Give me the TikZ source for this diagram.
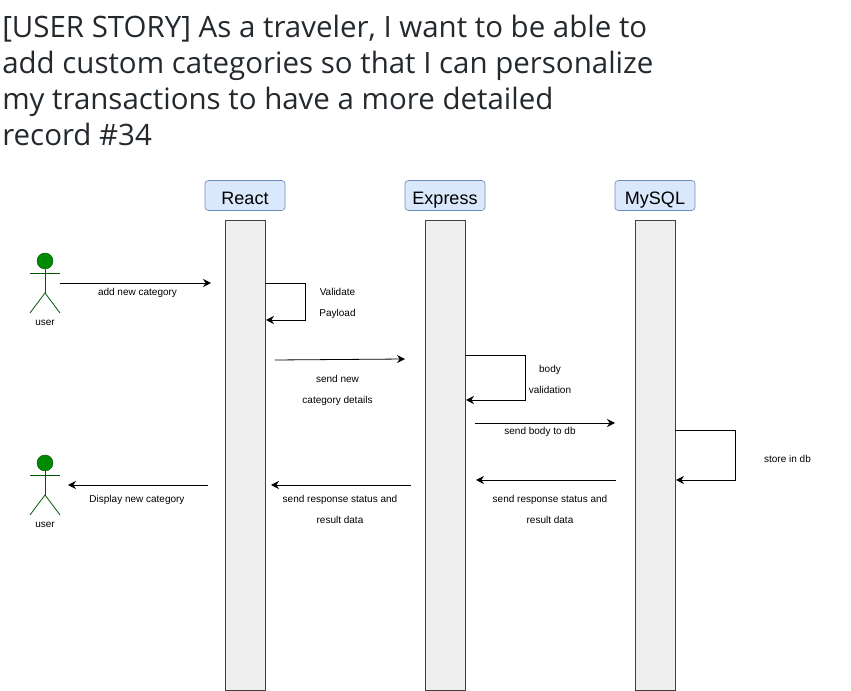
\documentclass[tikz,border=0pt]{standalone}
\usepackage{fontspec}
\usepackage{xcolor}
\setmainfont{Liberation Sans}
\newfontfamily\titlefont{Open Sans}
\usetikzlibrary{arrows.meta}
\definecolor{titlegray}{HTML}{24292E}
\definecolor{headblue}{HTML}{DAE8FC}
\definecolor{headline}{HTML}{6C8EBF}
\definecolor{bargray}{HTML}{EEEEEE}
\definecolor{actorgreen}{HTML}{008A00}
\definecolor{actorline}{HTML}{005700}
\tikzset{
  header/.style={draw=headline,fill=headblue,rounded corners=2.5pt,line width=0.5pt,minimum width=60pt,minimum height=22.5pt,inner sep=0pt,text height=14pt,text depth=1.2pt,font=\fontsize{13.5}{16}\selectfont},
  lifeline/.style={draw=black!75,fill=bargray,line width=0.6pt,minimum width=30pt,minimum height=352.5pt,inner sep=0pt},
  msg/.style={inner sep=0pt,align=center,yshift=-1.5pt,font=\fontsize{7.5}{15.75}\selectfont},
  conn/.style={black,line width=0.6pt,-{Stealth[length=6pt,width=6pt,inset=2pt]}},
  actorhead/.style={circle,draw=actorline,fill=actorgreen,line width=0.3pt,minimum size=12pt,inner sep=0pt},
  actorbody/.style={actorline,line width=0.6pt}
}
\begin{document}
\begin{tikzpicture}[x=0.75pt,y=-0.75pt]
\useasboundingbox (0,0) rectangle (851,691);
% title
\node (title) [anchor=north west,inner sep=0pt,align=left,text=titlegray,font=\titlefont\fontsize{22.1}{27}\selectfont] at (2,14.5) {[USER STORY] As a traveler, I want to be able to\\add custom categories so that I can personalize\\my transactions to have a more detailed\\record \#34};
% lifelines
\node (reactHead) [header] at (245,195.5) {React};
\node (expressHead) [header] at (445,195.5) {Express};
\node (mysqlHead) [header] at (655,195.5) {MySQL};
\node (reactBar) [lifeline] at (245,455) {};
\node (expressBar) [lifeline] at (445,455) {};
\node (mysqlBar) [lifeline] at (655,455) {};
% top user
\node (userHeadA) [actorhead] at (45,261) {};
\coordinate (shoulderAl) at (30,273);
\coordinate (shoulderAr) at (60,273);
\coordinate (hipA) at (45,293);
\coordinate (footAl) at (30,313);
\coordinate (footAr) at (60,313);
\draw [actorbody] (userHeadA) -- (hipA);
\draw [actorbody] (shoulderAl) -- (shoulderAr);
\draw [actorbody] (footAl) -- (hipA) -- (footAr);
\node (userA) [msg] at (45,321) {user};
% bottom user
\node (userHeadB) [actorhead] at (45,463) {};
\coordinate (shoulderBl) at (30,475);
\coordinate (shoulderBr) at (60,475);
\coordinate (hipB) at (45,495);
\coordinate (footBl) at (30,515);
\coordinate (footBr) at (60,515);
\draw [actorbody] (userHeadB) -- (hipB);
\draw [actorbody] (shoulderBl) -- (shoulderBr);
\draw [actorbody] (footBl) -- (hipB) -- (footBr);
\node (userB) [msg] at (45,523) {user};
% add new category
\coordinate (addFrom) at (60,283);
\coordinate (addTo) at (211,283);
\draw [conn] (addFrom) -- (addTo);
\node (addLabel) [msg] at (137.5,291) {add new category};
% validate payload
\coordinate (payFrom) at (265,283);
\coordinate (payTo) at (266,320);
\draw [conn] (payFrom) -- (305,283) -- (305,320) -- (payTo);
\node (payLabel) [msg] at (337.5,301.5) {Validate\\Payload};
% send new category
\coordinate (sendFrom) at (275,360);
\coordinate (sendTo) at (405,359);
\draw [conn] (sendFrom) -- (sendTo);
\node (sendLabel) [msg] at (337.5,388.5) {send new\\category details};
% body validation
\coordinate (bodyFrom) at (465,355);
\coordinate (bodyTo) at (466,400);
\draw [conn] (bodyFrom) -- (525,355) -- (525,400) -- (bodyTo);
\node (bodyLabel) [msg] at (550,377.5) {body\\validation};
% send body to db
\coordinate (dbFrom) at (475,423);
\coordinate (dbTo) at (615,423);
\draw [conn] (dbFrom) -- (dbTo);
\node (dbLabel) [msg] at (540,430) {send body to db};
% store in db
\coordinate (storeFrom) at (675,430);
\coordinate (storeTo) at (676,480);
\draw [conn] (storeFrom) -- (735,430) -- (735,480) -- (storeTo);
\node (storeLabel) [msg] at (787.5,457) {store in db};
% response to express
\coordinate (respFrom) at (616,480);
\coordinate (respTo) at (476,480);
\draw [conn] (respFrom) -- (respTo);
\node (respLabel) [msg] at (550,507.5) {send response status and\\result data};
% response to react
\coordinate (backFrom) at (411,485);
\coordinate (backTo) at (271,485);
\draw [conn] (backFrom) -- (backTo);
\node (backLabel) [msg] at (340,507.5) {send response status and\\result data};
% display
\coordinate (showFrom) at (208,485);
\coordinate (showTo) at (68,485);
\draw [conn] (showFrom) -- (showTo);
\node (showLabel) [msg] at (137,498) {Display new category};
\end{tikzpicture}
\end{document}
